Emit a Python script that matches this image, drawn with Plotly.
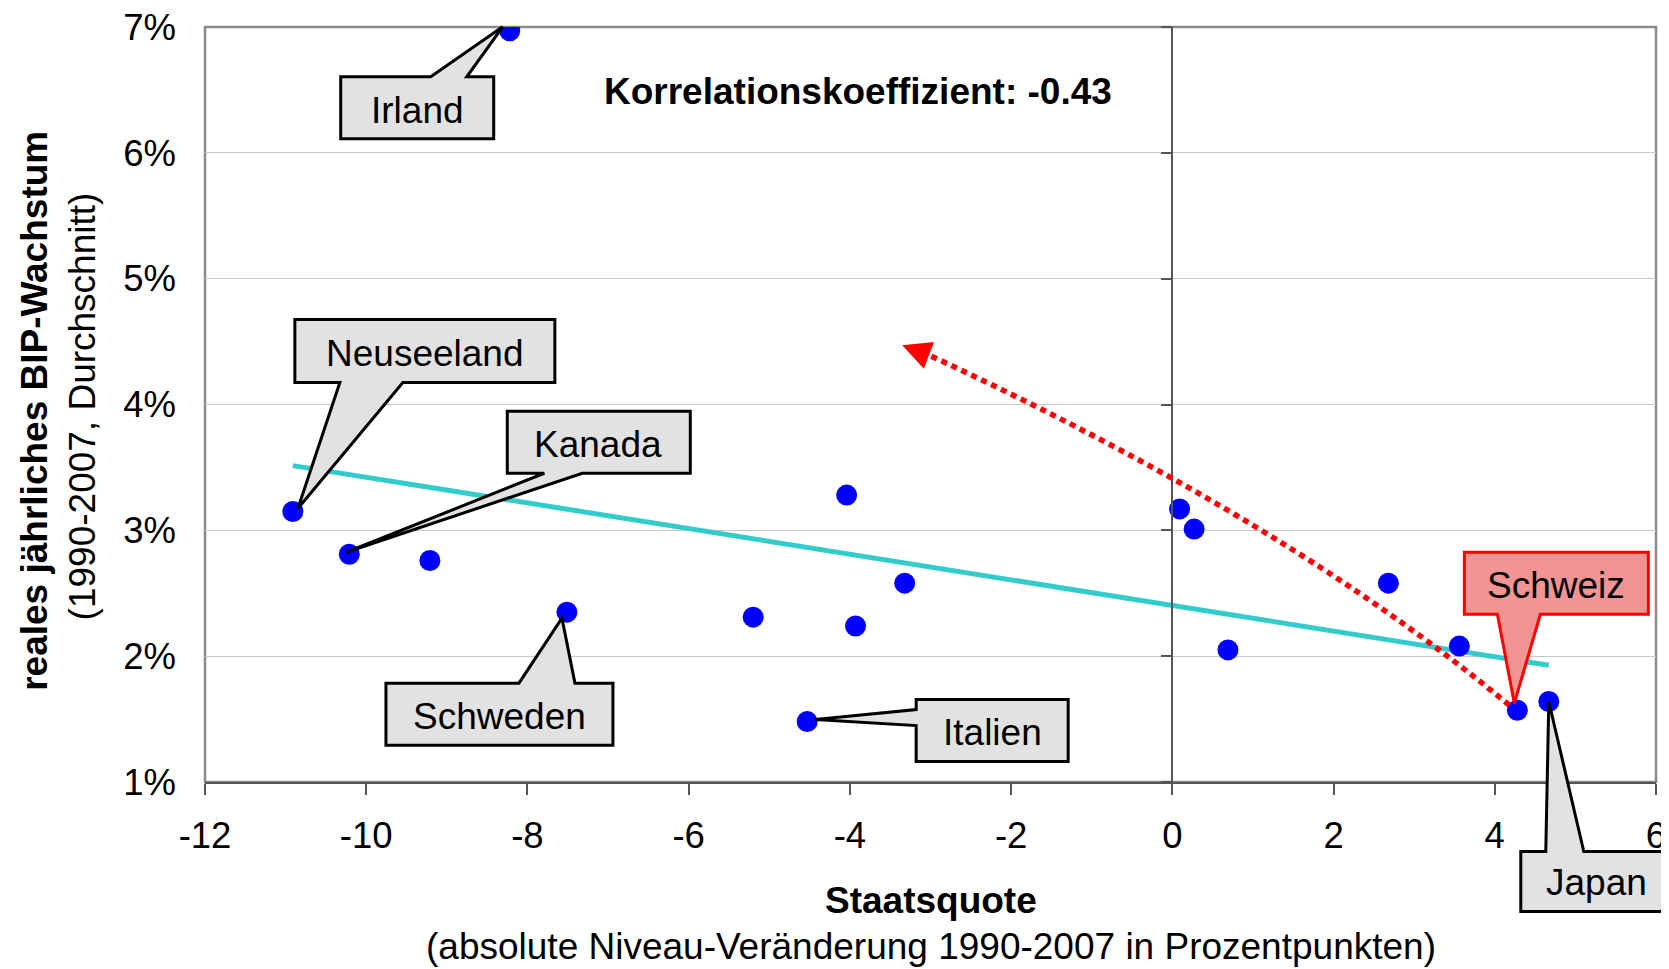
import numpy as np
import plotly.graph_objects as go

# ---------------- data ----------------
laender = ["Irland", "Neuseeland", "Kanada", "", "Schweden", "", "", "", "Italien", "",
           "", "", "", "", "", "Schweiz", "Japan"]
staatsquote = [-8.22, -10.91, -10.21, -9.21, -7.51, -5.20, -4.04, -3.93, -4.53, -3.32,
               0.09, 0.27, 0.69, 2.68, 3.56, 4.28, 4.67]
bip_wachstum = [6.97, 3.15, 2.81, 2.76, 2.35, 2.31, 3.28, 2.24, 1.48, 2.58,
                3.17, 3.01, 2.05, 2.58, 2.08, 1.57, 1.64]
x_ticks = [-12, -10, -8, -6, -4, -2, 0, 2, 4, 6]
y_ticks = [1, 2, 3, 4, 5, 6, 7]
korrelation_text = "Korrelationskoeffizient: -0.43"

# ---------------- style ----------------
FONT = "Liberation Sans, Arial, Helvetica, sans-serif"
XR = [-12, 6]
YR = [1, 7]
TXT = 37

# callout geometry in pixels relative to the labelled point (y up)
callouts = {
    "Irland": dict(path="M -169,-46 L -79,-46 L -7,4 L -43,-46 L -16,-46 L -16,-108 L -169,-108 Z",
                   text=(-92, -80), fill="#e2e2e2", line="black"),
    "Neuseeland": dict(path="M 2,192 L 262,192 L 262,129 L 110,129 L 5,3 L 47,129 L 2,129 Z",
                       text=(132, 158), fill="#e2e2e2", line="black"),
    "Kanada": dict(path="M 158,143 L 341,143 L 341,81 L 233,81 L -3,2 L 195,81 L 158,81 Z",
                   text=(249, 110), fill="#e2e2e2", line="black"),
    "Schweden": dict(path="M -181,-71 L -48,-71 L -5,-6 L 8,-71 L 46,-71 L 46,-133 L -181,-133 Z",
                     text=(-67, -104), fill="#e2e2e2", line="black"),
    "Italien": dict(path="M 109,22 L 261,22 L 261,-40 L 109,-40 L 109,-4 L 8,2 L 109,12 Z",
                    text=(185, -11), fill="#e2e2e2", line="black"),
    "Schweiz": dict(path="M -53,158 L 131,158 L 131,96 L 23,96 L -3,7 L -20,96 L -53,96 Z",
                    text=(39, 125), fill="#f29494", line="#ff0000"),
    "Japan": dict(path="M -28,-150 L -3,-150 L 0,0 L 35,-150 L 123,-150 L 123,-210 L -28,-210 Z",
                  text=(48, -181), fill="#e2e2e2", line="black"),
}

def px_(v):
    return (v - XR[0]) / (XR[1] - XR[0])

def py_(v):
    return (v - YR[0]) / (YR[1] - YR[0])

fig = go.Figure()

# trend line (least squares)
xs = np.array(staatsquote)
ys = np.array(bip_wachstum)
slope, intercept = np.polyfit(xs, ys, 1)
tx = np.array([xs.min(), xs.max()])
fig.add_trace(go.Scatter(x=tx, y=slope * tx + intercept, mode="lines",
                         line=dict(color="#33CCCC", width=5), hoverinfo="skip"))

fig.add_trace(go.Scatter(x=staatsquote, y=bip_wachstum, mode="markers",
                         marker=dict(color="#0000FF", size=21, line=dict(width=0)),
                         text=laender, hoverinfo="text+x+y"))

# dummy trace for axis through x=0
fig.add_trace(go.Scatter(x=[None], y=[None], yaxis="y2", hoverinfo="skip"))

shapes = []
annotations = []

# plot-area border
shapes.append(dict(type="rect", xref="paper", yref="paper", x0=0, y0=0, x1=1, y1=1,
                   line=dict(color="#8a8a8a", width=2.5), layer="below"))

# red dotted curved arrow (Schweiz -> upper left)
shapes.append(dict(type="path", xref="x", yref="y",
                   path="M 4.18,1.61 Q 1.43,3.075 -3.01,4.39",
                   line=dict(color="#ff0000", width=5.5, dash="6px,5px"), layer="above"))
annotations.append(dict(x=-3.35, y=4.47, ax=-3.02, ay=4.39, xref="x", yref="y",
                        axref="x", ayref="y", text="", showarrow=True, arrowhead=2,
                        arrowsize=1.9, arrowwidth=3, arrowcolor="#ff0000", standoff=0))

for name, xv, yv in zip(laender, staatsquote, bip_wachstum):
    if name in callouts:
        c = callouts[name]
        shapes.append(dict(type="path", xref="paper", yref="paper",
                           xsizemode="pixel", ysizemode="pixel",
                           xanchor=px_(xv), yanchor=py_(yv), path=c["path"],
                           fillcolor=c["fill"], line=dict(color=c["line"], width=3),
                           layer="above"))
        annotations.append(dict(x=px_(xv), y=py_(yv), xref="paper", yref="paper",
                                xshift=c["text"][0], yshift=c["text"][1],
                                text=name, showarrow=False, xanchor="center", yanchor="middle",
                                font=dict(family=FONT, size=TXT, color="black")))

annotations.append(dict(x=0.4498, y=0.914, xref="paper", yref="paper", text="<b>" + korrelation_text + "</b>",
                        showarrow=False, xanchor="center", yanchor="middle",
                        font=dict(family=FONT, size=TXT, color="black")))
annotations.append(dict(x=0.5, y=-0.1576, xref="paper", yref="paper", text="<b>Staatsquote</b>",
                        showarrow=False, xanchor="center", yanchor="middle",
                        font=dict(family=FONT, size=TXT, color="black")))
annotations.append(dict(x=0.5, y=-0.2185, xref="paper", yref="paper",
                        text="(absolute Niveau-Veränderung 1990-2007 in Prozentpunkten)",
                        showarrow=False, xanchor="center", yanchor="middle",
                        font=dict(family=FONT, size=TXT, color="black")))
annotations.append(dict(x=-0.1175, y=0.491, xref="paper", yref="paper",
                        text="<b>reales jährliches BIP-Wachstum</b>", textangle=-90,
                        showarrow=False, xanchor="center", yanchor="middle",
                        font=dict(family=FONT, size=TXT, color="black")))
annotations.append(dict(x=-0.0845, y=0.498, xref="paper", yref="paper",
                        text="(1990-2007, Durchschnitt)", textangle=-90,
                        showarrow=False, xanchor="center", yanchor="middle",
                        font=dict(family=FONT, size=TXT, color="black")))

# the page body has an 8px default margin: shrink figure accordingly
fig.update_layout(
    width=1661, height=961,
    margin=dict(l=197, r=13, t=19, b=187, autoexpand=False),
    paper_bgcolor="white", plot_bgcolor="white",
    showlegend=False,
    font=dict(family=FONT, size=36, color="black"),
    xaxis=dict(range=XR, tickvals=x_ticks, ticktext=[str(v) for v in x_ticks],
               showgrid=False, zeroline=False, showline=True, linecolor="#555555", linewidth=2,
               ticks="outside", ticklen=11, tickwidth=1.5, tickcolor="#555555",
               ticklabelstandoff=9, ticklabeloverflow="allow",
               tickfont=dict(family=FONT, size=36.5, color="black")),
    yaxis=dict(range=YR, tickvals=y_ticks, ticktext=[f"{v}%" for v in y_ticks],
               showgrid=True, gridcolor="#c8c8c8", gridwidth=1.3, zeroline=False,
               showline=False, ticks="", ticklabelstandoff=28, ticklabeloverflow="allow",
               tickfont=dict(family=FONT, size=36.5, color="black")),
    yaxis2=dict(range=YR, tickvals=y_ticks, overlaying="y", anchor="free",
                position=(0 - XR[0]) / (XR[1] - XR[0]), side="left",
                showgrid=False, zeroline=False, showline=True, linecolor="#555555", linewidth=1.5,
                ticks="outside", ticklen=11, tickwidth=1.5, tickcolor="#555555",
                showticklabels=False),
    shapes=shapes,
    annotations=annotations,
)

fig.write_html("out.html")
